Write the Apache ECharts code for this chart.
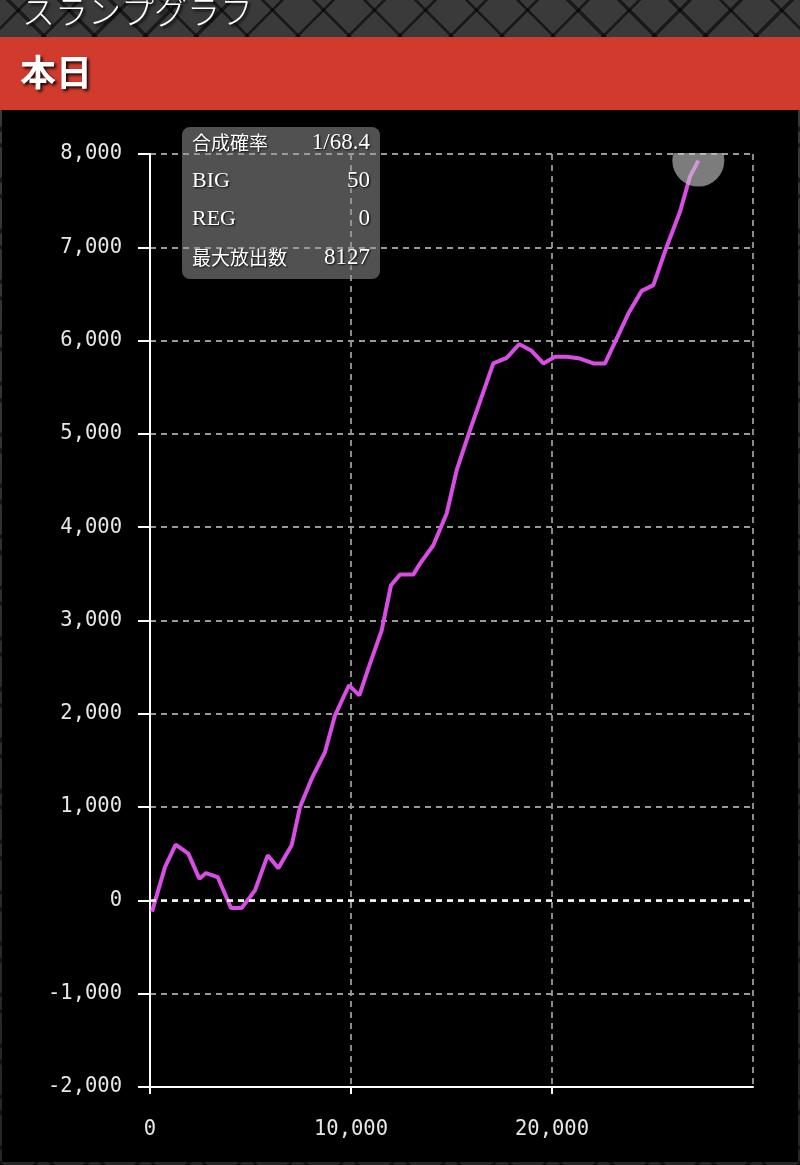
<!DOCTYPE html>
<html>
<head>
<meta charset="utf-8">
<script src="https://cdn.jsdelivr.net/npm/echarts@6/dist/echarts.min.js"></script>
<style>
html,body{margin:0;padding:0;}
body{
  width:800px;height:1165px;overflow:hidden;
  background-color:#222;
  background-image:
    repeating-linear-gradient(45deg, rgba(0,0,0,0.55) 0 3px, transparent 3px 36px),
    repeating-linear-gradient(-45deg, rgba(0,0,0,0.55) 0 3px, transparent 3px 36px),
    linear-gradient(180deg,#3a3a3a,#262626);
}
#chart{width:800px;height:1165px;}
</style>
</head>
<body>
<div id="chart"></div>
<script>
// ---- data ----
const gameCounts = [100, 746, 1277, 1907, 2454, 2786, 3367, 4030, 4560, 5224, 5854, 6384, 7048, 7463,
  8043, 8706, 9204, 9900, 10413, 10945, 11527, 11990, 12438, 13100, 13433, 14095, 14760, 15258,
  15920, 17081, 17745, 18373, 18988, 19570, 20149, 20730, 21393, 22056, 22637, 23217, 23797,
  24462, 25042, 25705, 26368, 26866, 27280];
const diffCoins = [-120, 357, 597, 501, 233, 293, 250, -82, -82, 107, 483, 346, 590, 1000,
  1305, 1590, 1984, 2306, 2198, 2538, 2895, 3378, 3492, 3492, 3610, 3807, 4147, 4611,
  5040, 5755, 5815, 5962, 5891, 5755, 5826, 5826, 5808, 5755, 5755, 6022, 6290,
  6533, 6595, 7006, 7381, 7757, 7929];
const statLabels = ['合成確率', 'BIG', 'REG', '最大放出数'];
const statValues = ['1/68.4', '50', '0', '8127'];
const pageTitle = 'スランプグラフ';
const sectionTitle = '本日';

const seriesData = gameCounts.map((g, i) => [g, diffCoins[i]]);
const lastPoint = seriesData[seriesData.length - 1];

function addCommas(v){
  const s = Math.abs(v).toString().replace(/\B(?=(\d{3})+(?!\d))/g, ',');
  return (v < 0 ? '-' : '') + s;
}

const chart = echarts.init(document.getElementById('chart'), null, {renderer:'canvas'});

const shadow = {textShadowColor:'rgba(0,0,0,0.9)', textShadowBlur:3, textShadowOffsetX:2, textShadowOffsetY:2};
const smallShadow = {textShadowColor:'rgba(0,0,0,0.9)', textShadowBlur:2, textShadowOffsetX:1, textShadowOffsetY:1};
const cjk = '"Noto Sans CJK JP", sans-serif';
const serif = '"Liberation Serif", "DejaVu Serif", serif';
const rowY = [143, 181, 219, 258];

const graphics = [
  {type:'rect', z:-10, silent:true, shape:{x:0, y:37, width:800, height:73}, style:{fill:'#d03b2d'}},
  {type:'rect', z:-10, silent:true, shape:{x:2, y:110, width:796, height:1052}, style:{fill:'#000'}},
  {type:'text', z:5, x:22, y:11, style:Object.assign({text:pageTitle, fill:'#fff', fontSize:33, fontFamily:cjk, fontWeight:300, align:'left', verticalAlign:'middle'}, shadow)},
  {type:'text', z:5, x:20, y:72, style:Object.assign({text:sectionTitle, fill:'#fff', fontSize:36, fontFamily:cjk, fontWeight:'bold', align:'left', verticalAlign:'middle'}, shadow)},
  {type:'rect', z:-5, silent:true, shape:{x:182, y:127, width:198, height:152, r:8}, style:{fill:'rgba(88,88,88,0.92)'}},
  // mask clipping the end-point halo above the plot area
  {type:'rect', z:50, silent:true, shape:{x:650, y:111, width:100, height:42}, style:{fill:'#000'}}
];
statLabels.forEach((t, i) => {
  const isCjk = /[^\x00-\x7f]/.test(t);
  graphics.push({type:'text', z:5, x:192, y:rowY[i], style:Object.assign({text:t, fill:'#fff', fontSize:isCjk?19:22, fontFamily:isCjk?cjk:serif, align:'left', verticalAlign:'middle'}, smallShadow)});
  graphics.push({type:'text', z:5, x:370, y:rowY[i], style:Object.assign({text:statValues[i], fill:'#fff', fontSize:23, fontFamily:serif, align:'right', verticalAlign:'middle'}, smallShadow)});
});

const labelStyle = {color:'#e6e6e6', fontFamily:'"DejaVu Sans Mono", monospace', fontSize:20.5};
const splitStyle = {show:true, lineStyle:{color:'#9a9a9a', width:1.8, type:[6,5]}};

chart.setOption({
  backgroundColor:'transparent',
  animation:false,
  graphic:graphics,
  grid:{left:150, right:47, top:154, bottom:78, containLabel:false},
  xAxis:{
    type:'value', min:0, max:30000, interval:10000,
    axisLine:{show:true, onZero:false, lineStyle:{color:'#fff', width:2}},
    axisTick:{show:true, length:7, lineStyle:{color:'#fff', width:2}},
    axisLabel:Object.assign({margin:32, showMaxLabel:false, formatter:addCommas}, labelStyle),
    splitLine:splitStyle
  },
  yAxis:{
    type:'value', min:-2000, max:8000, interval:1000,
    axisLine:{show:true, lineStyle:{color:'#fff', width:2}},
    axisTick:{show:true, length:12, lineStyle:{color:'#fff', width:2}},
    axisLabel:Object.assign({margin:28, formatter:addCommas}, labelStyle),
    splitLine:splitStyle
  },
  series:[{
    type:'line',
    data:seriesData,
    showSymbol:false,
    smooth:false,
    clip:true,
    lineStyle:{color:'#d84de4', width:4},
    markLine:{
      silent:true, symbol:'none', label:{show:false},
      lineStyle:{color:'#fff', width:2.6, type:[6,5]},
      data:[{yAxis:0}]
    },
    markPoint:{
      silent:true, symbol:'circle', symbolSize:52, label:{show:false},
      itemStyle:{color:'rgba(200,200,200,0.62)'},
      data:[{coord:lastPoint}]
    }
  }]
});
</script>
</body>
</html>
